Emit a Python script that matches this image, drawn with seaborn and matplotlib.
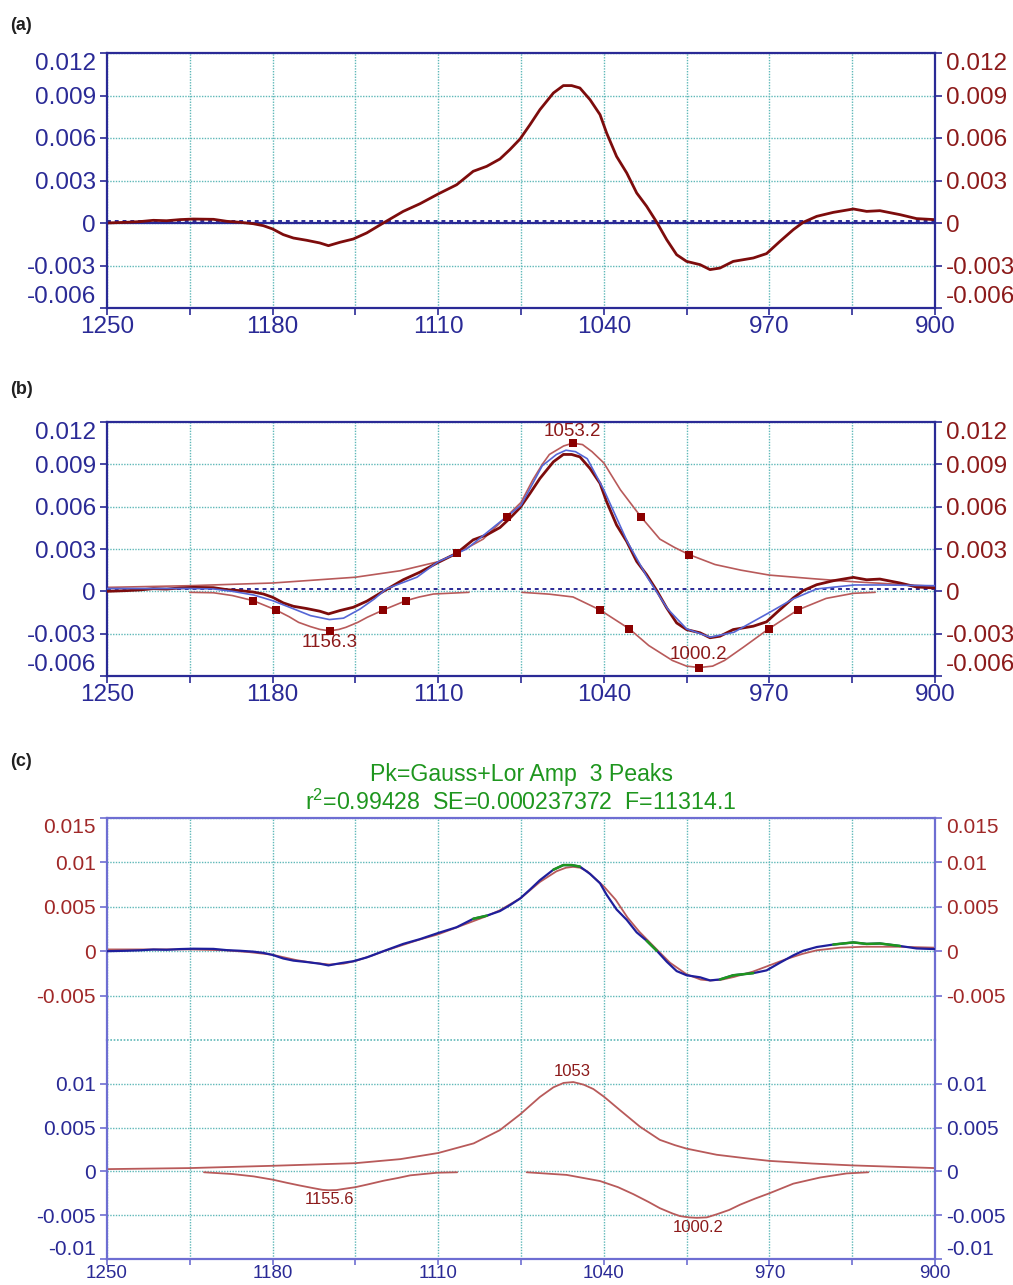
import matplotlib
matplotlib.use("Agg")
import matplotlib.pyplot as plt
from matplotlib.ticker import FixedLocator
import seaborn as sns

sns.set_theme(style="ticks")
plt.rcParams["font.family"] = ["Liberation Sans", "DejaVu Sans"]

# ---- data (wavenumber, absorbance) ----
data_wn = [1250, 1241.7, 1236, 1230.4, 1224.8, 1219.1, 1213.5, 1205, 1199.4, 1193.8,
           1188.2, 1183.9, 1180, 1175.5, 1171.2, 1165.6, 1160, 1156.4, 1151.5, 1145.9,
           1140.2, 1133.2, 1124.8, 1117.7, 1110, 1102.2, 1095.2, 1089.5, 1083.9, 1079.7,
           1075.4, 1071.2, 1067, 1061.3, 1057.1, 1053.6, 1050.1, 1045.8, 1041.6, 1038.8,
           1034.6, 1030.3, 1026.1, 1021.9, 1017.6, 1013.4, 1009.2, 1005, 999.3, 995.1,
           990.9, 985.3, 976.8, 971.2, 965.5, 959.9, 955.7, 950, 943, 934.5,
           928.9, 923.3, 914.8, 907.8, 900.3]
data_abs = [0.0, 0.00005, 0.0001, 0.00019, 0.00016, 0.00024, 0.00028, 0.00026, 0.00012, 0.00005,
            -0.00005, -0.00019, -0.00042, -0.00082, -0.00106, -0.00122, -0.00141, -0.0016, -0.00136, -0.00113,
            -0.0007, 0.0, 0.00082, 0.00136, 0.00205, 0.0027, 0.00365, 0.004, 0.00452, 0.00518,
            0.00593, 0.00694, 0.008, 0.00918, 0.0097, 0.0097, 0.00953, 0.0087, 0.00765, 0.00635,
            0.0047, 0.00353, 0.00212, 0.00118, 0.00005, -0.00118, -0.00224, -0.00271, -0.00294, -0.00329,
            -0.00318, -0.00271, -0.00247, -0.00216, -0.00129, -0.00047, 0.00005, 0.00047, 0.00075, 0.00099,
            0.00082, 0.00087, 0.00059, 0.00031, 0.00024]
baseline = 0.00017

# (b) initial fit (blue) and initial peaks
fitb_wn = [1250, 1230, 1215, 1205, 1197, 1188, 1180, 1171, 1164, 1156, 1150, 1143, 1137, 1132,
           1119, 1110, 1098, 1084, 1075, 1066, 1060, 1056, 1052, 1047, 1040, 1030, 1022, 1013,
           1005, 995, 985, 970, 960, 950, 934, 922, 900]
fitb = [0.0002, 0.0002, 0.0002, 0.00017, 0.0, -0.00026, -0.00066, -0.00125, -0.00172, -0.002,
        -0.0019, -0.00125, -0.00054, 0.00017, 0.001, 0.0021, 0.003, 0.0049, 0.0061, 0.0089,
        0.0097, 0.01, 0.0099, 0.0094, 0.0072, 0.0035, 0.0011, -0.00125, -0.00266, -0.00325,
        -0.0029, -0.0015, -0.00054, 0.00017, 0.00045, 0.00045, 0.0004]

pb1_wn = [1215, 1205, 1197, 1188.2, 1178.6, 1173, 1169, 1164, 1160, 1155.7, 1152, 1149, 1144,
          1140, 1133.2, 1123.6, 1118, 1112, 1097]
pb1 = [-0.00007, -0.0001, -0.0003, -0.00066, -0.00132, -0.0018, -0.0022, -0.0025, -0.0027,
       -0.0028, -0.0027, -0.00255, -0.0022, -0.00184, -0.00132, -0.00066, -0.0004, -0.00019, -0.00007]
pb2_wn = [1250, 1215, 1180, 1145, 1126, 1110, 1101.9, 1091, 1081.1, 1075, 1070, 1066, 1063,
          1057, 1053.2, 1049, 1045, 1040, 1033, 1024.4, 1016.3, 1010, 1003.9, 993, 982, 970,
          952, 934.5, 900]
pb2 = [0.00028, 0.0004, 0.00059, 0.001, 0.00146, 0.0021, 0.0027, 0.0037, 0.0053, 0.0063, 0.0079,
       0.0090, 0.0097, 0.0103, 0.0105, 0.0104, 0.0099, 0.0091, 0.0072, 0.0053, 0.0037, 0.0031,
       0.0026, 0.0019, 0.0015, 0.00115, 0.0009, 0.00068, 0.00035]
pb3_wn = [1074.6, 1063, 1053, 1041.6, 1029.2, 1021, 1011, 1005, 999.6, 994, 989, 981, 970.3,
          958, 946, 934.5, 925.3]
pb3 = [-0.00007, -0.0002, -0.0004, -0.00132, -0.00266, -0.00384, -0.0049, -0.0053, -0.0054,
       -0.0053, -0.0049, -0.00396, -0.00266, -0.00132, -0.0005, -0.00014, -0.00007]
mk_wn = [1188.2, 1178.6, 1155.7, 1133.2, 1123.6, 1101.9, 1081.1, 1053.2, 1024.4, 1003.9,
         1041.6, 1029.2, 999.6, 970.3, 958]
mk_val = [-0.00066, -0.00132, -0.0028, -0.00132, -0.00066, 0.0027, 0.0053, 0.0105, 0.0053, 0.0026,
          -0.00132, -0.00266, -0.0054, -0.00266, -0.00132]
b_labels = ["1156.3", "1053.2", "1000.2"]

# (c) final fit and final peaks
fitc_wn = [1250, 1230, 1215, 1200, 1190, 1180, 1170, 1163, 1156, 1150, 1145, 1138, 1133, 1125,
           1118, 1110, 1100, 1090, 1084, 1075, 1067, 1060, 1056, 1053, 1050, 1047, 1040, 1035,
           1030, 1025, 1018, 1012, 1005, 999, 995, 990, 985, 977, 970, 963, 956, 950, 940, 930,
           915, 900]
fitc = [0.0002, 0.0002, 0.0002, 0.0001, -0.0001, -0.0004, -0.001, -0.0013, -0.0015, -0.0014,
        -0.0011, -0.0005, 0.0, 0.0007, 0.0013, 0.0019, 0.0029, 0.0039, 0.0046, 0.006, 0.0078,
        0.0090, 0.0094, 0.0095, 0.0094, 0.0090, 0.0073, 0.0058, 0.0038, 0.0022, 0.0003, -0.0013,
        -0.0026, -0.0032, -0.0033, -0.0032, -0.0029, -0.0023, -0.0016, -0.0009, -0.0003, 0.0001,
        0.0004, 0.0005, 0.0005, 0.0004]
green_ranges = [(1099, 1087), (1062, 1049), (1037, 1033), (1022, 1017), (991, 973), (948, 912)]

pc1_wn = [1209, 1197, 1188, 1180, 1174, 1168.7, 1163, 1159, 1156.4, 1153, 1150, 1145, 1140,
          1133, 1127, 1121.8, 1110.5, 1102]
pc1 = [-0.0001, -0.0003, -0.00057, -0.00094, -0.0013, -0.0016, -0.0019, -0.0021, -0.00215,
       -0.00213, -0.0020, -0.0018, -0.0015, -0.00106, -0.00075, -0.00045, -0.00015, -0.0001]
pc2_wn = [1250, 1215, 1180, 1145, 1126, 1110, 1095, 1084, 1075.4, 1067, 1061.3, 1057, 1052.9,
          1048.5, 1044.4, 1039.8, 1033.2, 1024.7, 1016.3, 1010, 1005, 992.3, 980, 970, 952,
          934.5, 900.3]
pc2 = [0.00026, 0.00038, 0.00064, 0.00094, 0.0014, 0.0021, 0.0032, 0.0047, 0.0065, 0.0085,
       0.0096, 0.0101, 0.0102, 0.0099, 0.0094, 0.0085, 0.007, 0.0051, 0.0036, 0.003, 0.0026,
       0.0019, 0.0015, 0.0012, 0.0009, 0.00068, 0.00038]
pc3_wn = [1072.6, 1055.7, 1041.6, 1034, 1027.5, 1021, 1016.3, 1011, 1007.8, 1004, 1000.7,
          996.5, 992.3, 987, 982.4, 976, 970, 959.9, 948.6, 937.3, 928.2]
pc3 = [-0.0001, -0.0004, -0.0011, -0.0018, -0.0026, -0.0035, -0.0042, -0.0048, -0.0051,
       -0.00525, -0.0053, -0.00525, -0.0049, -0.0044, -0.0038, -0.0031, -0.0025, -0.0014,
       -0.0007, -0.00023, -0.0001]
c_labels = ["1155.6", "1053", "1000.2"]

x_major = [1250, 1180, 1110, 1040, 970, 900]
x_minor = [1215, 1145, 1075, 1005, 935]
y_ab = [-0.006, -0.003, 0, 0.003, 0.006, 0.009, 0.012]
y_ab_lab = ["-0.006", "-0.003", "0", "0.003", "0.006", "0.009", "0.012"]
y_cu = [-0.005, 0, 0.005, 0.01, 0.015]
y_cu_lab = ["-0.005", "0", "0.005", "0.01", "0.015"]
y_cl = [-0.01, -0.005, 0, 0.005, 0.01]
y_cl_lab = ["-0.01", "-0.005", "0", "0.005", "0.01"]

NAVY = "#2a2a96"
DRED = "#8c1a1a"
SPINE_C = "#6e6ed2"
GRID = "#5fb8b8"
DATA_C = "#7d0c0c"
PEAK_C = "#b85a5a"
BLUE = "#5566d6"
GREEN = "#1e961e"
GRID_LS = (0, (1, 1))

W, H = 1013, 1285
fig = plt.figure(figsize=(W / 100, H / 100), dpi=100)


def box(l, t, r, b):
    return [l / W, 1 - b / H, (r - l) / W, (b - t) / H]


def style(ax, yt, ylab, ylim, lcol, rcol, scol, fs, xlabels=True, xfs=None, xpad=1, tlen=5):
    ax.set_xlim(1250, 900)
    ax.set_ylim(*ylim)
    ax.set_axisbelow(True)
    ax.xaxis.set_major_locator(FixedLocator(x_major))
    ax.xaxis.set_minor_locator(FixedLocator(x_minor))
    ax.set_yticks(yt)
    ax.set_yticklabels(ylab)
    ax.grid(True, which="both", color=GRID, linestyle=GRID_LS, linewidth=1)
    ax.tick_params(axis="both", which="both", direction="out", length=5, width=1.2, color=scol)
    ax.tick_params(axis="y", left=True, right=True, labelleft=True, labelright=True,
                   labelsize=fs, pad=3)
    ax.tick_params(axis="x", which="both", bottom=xlabels, labelbottom=xlabels, length=tlen,
                   labelsize=xfs or fs, labelcolor=NAVY, pad=xpad)
    for s in ax.spines.values():
        s.set_color(scol)
        s.set_linewidth(1.6)
    ticks = ax.yaxis.get_major_ticks()
    for t in ticks:
        t.label1.set_color(lcol)
        t.label2.set_color(rcol)
    ax.set_xlabel("")
    ax.set_ylabel("")
    return ticks


def line(ax, x, y, color, lw, z=2):
    sns.lineplot(x=x, y=y, ax=ax, color=color, linewidth=lw, sort=False,
                 estimator=None, zorder=z)


# ---------------- (a) ----------------
ax_a = fig.add_axes(box(107, 53, 935, 308))
ax_a.axhline(0, color=NAVY, lw=1.6, zorder=1.5)
ax_a.axhline(baseline, color=NAVY, lw=1.4, ls=(0, (2, 2)), zorder=1.6)
line(ax_a, data_wn, data_abs, DATA_C, 2.0)
tk = style(ax_a, y_ab, y_ab_lab, (-0.006, 0.012), NAVY, DRED, NAVY, 17.5)
tk[0].label1.set_va("bottom"); tk[0].label2.set_va("bottom")
tk[-1].label1.set_va("top"); tk[-1].label2.set_va("top")

# ---------------- (b) ----------------
ax_b = fig.add_axes(box(107, 422, 935, 676))
ax_b.axhline(baseline, color=NAVY, lw=1.4, ls=(0, (2, 2)), zorder=1.6)
for pw, pv in [(pb1_wn, pb1), (pb2_wn, pb2), (pb3_wn, pb3)]:
    line(ax_b, pw, pv, PEAK_C, 1.2)
line(ax_b, data_wn, data_abs, DATA_C, 2.0, z=3)
line(ax_b, fitb_wn, fitb, BLUE, 1.2, z=4)
sns.scatterplot(x=mk_wn, y=mk_val, ax=ax_b, marker="s", s=30, color="#8b0000",
                edgecolor="#8b0000", linewidth=0, zorder=5)
ax_b.text(1155.7, -0.0036, b_labels[0], color=DRED, fontsize=13.5, ha="center", va="center")
ax_b.text(1053.2, 0.0113, b_labels[1], color=DRED, fontsize=13.5, ha="center", va="center")
ax_b.text(999.8, -0.0045, b_labels[2], color=DRED, fontsize=13.5, ha="center", va="center")
tk = style(ax_b, y_ab, y_ab_lab, (-0.006, 0.012), NAVY, DRED, NAVY, 17.5)
tk[0].label1.set_va("bottom"); tk[0].label2.set_va("bottom")
tk[-1].label1.set_va("top"); tk[-1].label2.set_va("top")

# ---------------- (c) upper ----------------
ax_cu = fig.add_axes(box(107, 818, 935, 1040))
line(ax_cu, fitc_wn, fitc, PEAK_C, 1.3, z=2)
line(ax_cu, data_wn, data_abs, "#1f1f9c", 1.6, z=3)
for hi, lo in green_ranges:
    seg_x = [w for w in data_wn if lo <= w <= hi]
    seg_y = [v for w, v in zip(data_wn, data_abs) if lo <= w <= hi]
    line(ax_cu, seg_x, seg_y, GREEN, 1.8, z=4)
tk = style(ax_cu, y_cu, y_cu_lab, (-0.01, 0.015), "#a02828", "#a02828", SPINE_C, 15, xlabels=False)
tk[-1].label1.set_va("top"); tk[-1].label2.set_va("top")
ax_cu.spines["bottom"].set_visible(False)
ax_cu.tick_params(axis="x", which="both", length=0)

# ---------------- (c) lower ----------------
ax_cl = fig.add_axes(box(107, 1040, 935, 1259))
for pw, pv in [(pc1_wn, pc1), (pc2_wn, pc2), (pc3_wn, pc3)]:
    line(ax_cl, pw, pv, PEAK_C, 1.3)
ax_cl.text(1156, -0.0032, c_labels[0], color=DRED, fontsize=12, ha="center", va="center")
ax_cl.text(1053.3, 0.0114, c_labels[1], color=DRED, fontsize=12, ha="center", va="center")
ax_cl.text(1000.2, -0.0064, c_labels[2], color=DRED, fontsize=12, ha="center", va="center")
tk = style(ax_cl, y_cl, y_cl_lab, (-0.01, 0.015), NAVY, NAVY, SPINE_C, 15,
           xfs=13.5, xpad=0, tlen=4)
tk[0].label1.set_va("bottom"); tk[0].label2.set_va("bottom")
ax_cl.spines["top"].set_visible(False)
ax_cl.axhline(0.015, color=GRID, ls=GRID_LS, lw=1.2, clip_on=False, zorder=0.5)

# titles and panel letters
fig.text(521 / W, 1 - 775 / H, "Pk=Gauss+Lor Amp  3 Peaks", color=GREEN, fontsize=16.7,
         ha="center", va="center")
fig.text(521 / W, 1 - 802 / H, "r$^{\\mathregular{2}}$=0.99428  SE=0.000237372  F=11314.1",
         color=GREEN, fontsize=16.7, ha="center", va="center")
for lab, yp in [("(a)", 25), ("(b)", 390), ("(c)", 762)]:
    fig.text(10 / W, 1 - yp / H, lab, fontsize=13, fontweight="bold", color="#202020",
             ha="left", va="center")

fig.savefig("out.png", dpi=100, facecolor="white")
